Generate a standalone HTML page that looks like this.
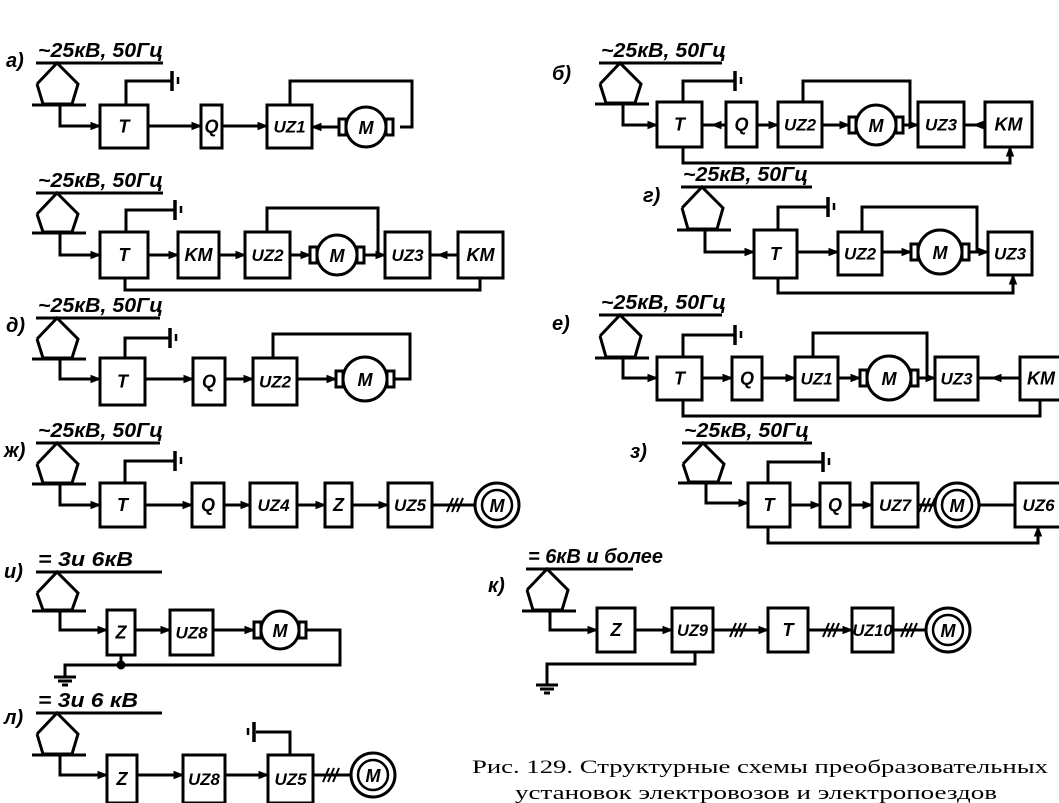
<!DOCTYPE html>
<html><head><meta charset="utf-8">
<style>
html,body{margin:0;padding:0;background:#fff;}
svg{display:block;}
.t{font-family:"Liberation Sans",sans-serif;font-style:italic;font-weight:bold;fill:#000;}
.c{font-family:"Liberation Serif",serif;fill:#000;font-size:19px;}
</style></head><body>
<svg id="s" width="1059" height="803" viewBox="0 0 1059 803" xmlns="http://www.w3.org/2000/svg">
<g id="g" stroke="#000" stroke-width="3" fill="none" stroke-linejoin="miter"></g>
<text class="c" x="472" y="773" textLength="576" lengthAdjust="spacingAndGlyphs">Рис. 129. Структурные схемы преобразовательных</text>
<text class="c" x="515" y="799" textLength="482" lengthAdjust="spacingAndGlyphs">установок электровозов и электропоездов</text>
</svg>
<script>
var g=document.getElementById('g');var o='';var txt='';
function L(p){o+='<polyline points="'+p.join(' ')+'"/>';}
function T(x,y,s,sz,len){txt+='<text class="t" x="'+x+'" y="'+y+'" font-size="'+sz+'"'+(len?' textLength="'+len+'" lengthAdjust="spacingAndGlyphs"':'')+'>'+s+'</text>';}
function TC(x,y,s,sz){txt+='<text class="t" x="'+x+'" y="'+y+'" font-size="'+sz+'" text-anchor="middle">'+s+'</text>';}
function box(x1,y1,x2,y2,s){o+='<rect x="'+x1+'" y="'+y1+'" width="'+(x2-x1)+'" height="'+(y2-y1)+'"/>';
 var w=x2-x1;var sz=(s.length>=3)?Math.min(17,w*0.4):18;TC((x1+x2)/2,(y1+y2)/2+6,s,sz);}
function ar(x,y,d){d=d||1;o+='<polygon fill="#000" stroke-width="1" points="'+x+','+y+' '+(x-9*d)+','+(y-3.5)+' '+(x-9*d)+','+(y+3.5)+'"/>';}
function arU(x,y){o+='<polygon fill="#000" stroke-width="1" points="'+x+','+y+' '+(x-3.5)+','+(y+9)+' '+(x+3.5)+','+(y+9)+'"/>';}
function pant(ax,ay,bar,text,lx,tl,dy,tx){
 L([ax-20,ay+21,ax,ay,ax+21,ay+21,ax+15,bar-1,ax-14,bar-1,ax-20,ay+21]);
 L([ax-25,bar,ax+29,bar]);L([ax-21,ay,lx,ay]);
 T(ax-19,ay-6,text,20,tl);
 L([ax+3,bar,ax+3,dy,tx,dy]);ar(tx,dy);}
function gnd(x,y){o+='<line x1="'+x+'" y1="'+(y-10)+'" x2="'+x+'" y2="'+(y+10)+'" stroke-width="3.5"/>';
 o+='<line x1="'+(x+6)+'" y1="'+(y-4)+'" x2="'+(x+6)+'" y2="'+(y+3)+'" stroke-width="2.5"/>';}
function gndT(x1,top,x2,y){L([x1,top,x1,y,x2,y]);gnd(x2,y);}
function mot(cx,cy,r){o+='<circle cx="'+cx+'" cy="'+cy+'" r="'+r+'"/>';
 o+='<rect x="'+(cx-r-7)+'" y="'+(cy-8)+'" width="7" height="16"/>';
 o+='<rect x="'+(cx+r)+'" y="'+(cy-8)+'" width="7" height="16"/>';
 TC(cx,cy+7,'M',18);}
function mot2(cx,cy){o+='<circle cx="'+cx+'" cy="'+cy+'" r="22"/><circle cx="'+cx+'" cy="'+cy+'" r="15" stroke-width="2.5"/>';TC(cx,cy+7,'M',18);}
function sl(x,y){for(var i=0;i<3;i++){var xx=x+i*5;o+='<line x1="'+(xx-3)+'" y1="'+(y+7)+'" x2="'+(xx+3)+'" y2="'+(y-7)+'" stroke-width="2"/>';}}
function hl(x1,x2,y,a){L([x1,y,x2,y]);if(a)ar(x2,y);}
var H='~25кВ, 50Гц';

// a)
T(6,67,'а)',20);
pant(57,63,105,H,163,125,126,100);
box(100,105,148,148,'T');gndT(126,105,172,81);
hl(148,201,126,1);box(201,105,222,148,'Q');hl(222,267,126,1);box(267,105,312,148,'UZ1');
mot(366,127,20);hl(338,312,127);ar(312,127,-1);
L([290,105,290,81,412,81,412,127,400,127]);

// в
pant(57,193,233,H,163,125,255,100);
box(100,232,148,278,'T');gndT(126,232,175,210);
hl(148,178,255,1);box(178,232,219,278,'KM');hl(219,245,255,1);box(245,232,290,278,'UZ2');
mot(337,255,20);hl(290,310,255,1);
L([267,232,267,208,378,208,378,255]);hl(365,385,255,1);box(385,232,430,278,'UZ3');
hl(430,458,255);ar(438,255,-1);box(458,232,503,278,'KM');
L([125,278,125,290,480,290,480,278]);

// д
T(6,332,'д)',20);
pant(57,318,359,H,160,125,379,100);
box(100,358,145,405,'T');gndT(125,358,170,338);
hl(145,193,379,1);box(193,358,225,405,'Q');hl(225,253,379,1);box(253,358,297,405,'UZ2');
mot(365,379,22);hl(297,336,379,1);
L([273,358,273,334,410,334,410,379,394,379]);

// ж
T(4,457,'ж)',20);
pant(57,443,484,H,160,125,505,100);
box(100,483,145,527,'T');gndT(125,483,175,461);
hl(145,192,505,1);box(192,483,224,527,'Q');hl(224,250,505,1);box(250,483,297,527,'UZ4');
hl(297,325,505,1);box(325,483,352,527,'Z');hl(352,388,505,1);box(388,483,432,527,'UZ5');
hl(432,475,505);sl(450,505);mot2(497,505);

// б
T(552,80,'б)',20);
pant(620,63,104,H,722,125,125,657);
box(657,102,702,147,'T');gndT(683,102,735,81);
hl(702,726,125);ar(712,125,-1);box(726,102,757,147,'Q');hl(757,778,125,1);box(778,102,822,147,'UZ2');
mot(876,125,20);hl(822,849,125,1);
L([803,102,803,81,910,81,910,125]);hl(903,918,125,1);box(918,102,964,147,'UZ3');
hl(964,985,125);ar(974,125,-1);box(985,102,1032,147,'KM');
L([683,147,683,163,1010,163,1010,147]);arU(1010,147);

// г
T(643,202,'г)',20);
pant(702,187,230,H,812,125,252,754);
box(754,230,797,278,'T');gndT(778,230,828,207);
hl(797,838,252,1);box(838,232,882,275,'UZ2');
mot(940,252,22);hl(882,911,252,1);
L([862,232,862,207,977,207,977,252]);hl(970,988,252,1);box(988,232,1032,275,'UZ3');
L([778,278,778,293,1013,293,1013,275]);arU(1013,275);

// е
T(552,330,'е)',20);
pant(620,315,358,H,722,125,378,657);
box(657,357,702,400,'T');gndT(683,357,735,335);
hl(702,732,378,1);box(732,357,762,400,'Q');hl(762,795,378,1);box(795,357,838,400,'UZ1');
mot(889,378,22);hl(838,860,378,1);
L([813,357,813,333,927,333,927,378]);hl(918,935,378,1);box(935,357,978,400,'UZ3');
hl(978,1020,378);ar(992,378,-1);box(1020,357,1062,400,'KM');
L([683,400,683,416,1040,416,1040,400]);

// з
T(630,458,'з)',20);
pant(703,443,483,H,812,125,503,748);
box(748,483,790,527,'T');gndT(768,483,823,462);
hl(790,820,505,1);box(820,483,850,527,'Q');hl(850,872,505,1);box(872,483,918,527,'UZ7');
hl(918,935,505);sl(922,505);mot2(957,505);hl(979,1015,505);box(1015,483,1062,527,'UZ6');
L([768,527,768,543,1038,543,1038,527]);arU(1038,527);

// и
T(4,578,'и)',20);
pant(57,572,611,'= 3и 6кВ',162,95,630,107);
box(107,610,135,655,'Z');hl(135,170,630,1);box(170,610,213,655,'UZ8');
mot(280,630,19);hl(213,254,630,1);
L([306,630,340,630,340,665,65,665,65,677]);L([121,655,121,665]);
o+='<circle cx="121" cy="665" r="3" fill="#000"/>';
L([54,677,76,677]);L([58,681,72,681]);L([62,685,68,685]);

// л
T(4,724,'л)',20);
pant(57,713,755,'= 3и 6 кВ',162,100,775,107);
box(107,755,137,803,'Z');hl(137,183,775,1);box(183,755,225,803,'UZ8');
hl(225,268,775,1);box(268,755,313,803,'UZ5');L([290,755,290,732,256,732]);
o+='<line x1="254" y1="722" x2="254" y2="742" stroke-width="3.5"/><line x1="248" y1="728" x2="248" y2="735" stroke-width="2.5"/>';
hl(313,351,775);sl(326,775);mot2(373,775);

// к
T(488,592,'к)',20);
pant(547,569,611,'= 6кВ и более',633,135,630,597);
box(597,608,635,652,'Z');hl(635,672,630,1);box(672,608,713,652,'UZ9');
hl(713,768,630,1);sl(733,630);box(768,608,808,652,'T');
hl(808,852,630,1);sl(826,630);box(852,608,893,652,'UZ10');
hl(893,926,630);sl(904,630);mot2(948,630);
L([695,652,695,664,547,664,547,685]);L([536,685,558,685]);L([540,689,554,689]);L([544,693,550,693]);

g.innerHTML=o;
document.getElementById('s').insertAdjacentHTML('beforeend',txt);
</script>
</body></html>
